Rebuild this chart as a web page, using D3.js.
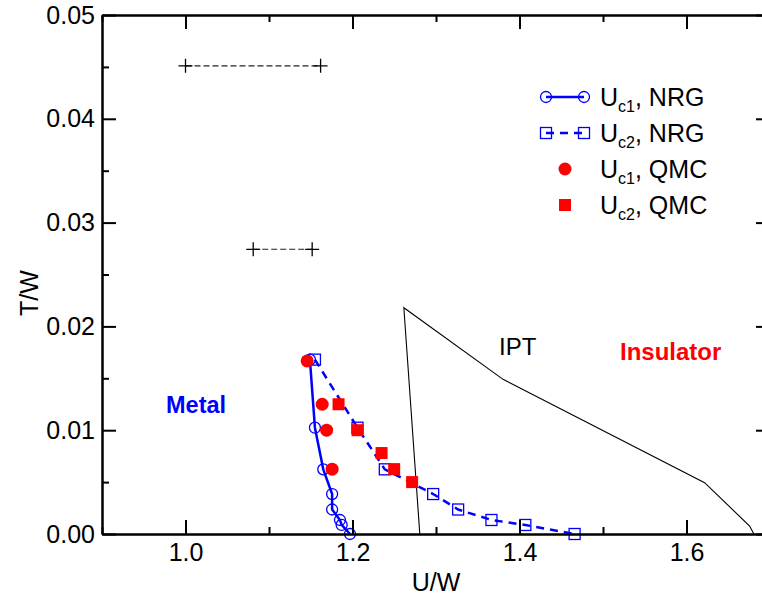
<!DOCTYPE html>
<html><head><meta charset="utf-8">
<script src="https://cdn.jsdelivr.net/npm/d3@7"></script>
<style>
html,body{margin:0;padding:0;background:#fff;}
svg{display:block;font-family:"Liberation Sans",Arial,Helvetica,sans-serif;}
</style></head>
<body>
<svg id="chart" width="762" height="596"></svg>
<script>
// ---- data ----
const xTicks = [1.0, 1.2, 1.4, 1.6];
const xMinor = [0.9, 1.1, 1.3, 1.5, 1.7];
const yTicks = [0.00, 0.01, 0.02, 0.03, 0.04, 0.05];
const yMinor = [0.005, 0.015, 0.025, 0.035, 0.045];

const nrgT   = [0.0168, 0.01024, 0.00623, 0.00385, 0.00236, 0.00135, 0.00087, 0.0];
const uc1NrgU = [1.149, 1.155, 1.165, 1.1756, 1.1756, 1.185, 1.187, 1.197];
const uc2NrgU = [1.155, 1.206, 1.2387, 1.2966, 1.3265, 1.3664, 1.407, 1.466];

const uc1QmcU = [1.1457, 1.1637, 1.169, 1.1756];
const uc1QmcT = [0.01667, 0.0125, 0.0100, 0.00625];
const uc2QmcU = [1.1833, 1.206, 1.2348, 1.2499, 1.2714];
const uc2QmcT = [0.0125, 0.0100, 0.0078, 0.00625, 0.0050];

const iptU = [1.2806, 1.2615, 1.3803, 1.6217, 1.6756, 1.6807];
const iptT = [0.0, 0.0218, 0.0149, 0.00494, 0.00077, 0.0];

const crossTopU = [1.0, 1.1618];
const crossTopT = [0.0451, 0.0451];
const crossBotU = [1.0811, 1.1517];
const crossBotT = [0.02743, 0.02743];

const legendSub = ["c1", "c2", "c1", "c2"];
const legendMethod = ["NRG", "NRG", "QMC", "QMC"];

// ---- chart ----
const svg = d3.select("#chart");
const x = d3.scaleLinear().domain([0.9, 1.7]).range([102, 770]);
const y = d3.scaleLinear().domain([0, 0.05]).range([534, 15]);
const zip = (a, b) => a.map((v, i) => [v, b[i]]);
const line = d3.line().x(d => x(d[0])).y(d => y(d[1]));
const BLUE = "#0000ff", RED = "#ff0000";

// IPT wedge
svg.append("path").attr("d", line(zip(iptU, iptT)))
  .attr("fill", "none").attr("stroke", "#000").attr("stroke-width", 1.1);

// crosses with dashed lines
[[crossTopU, crossTopT], [crossBotU, crossBotT]].forEach(([u, t]) => {
  const pts = zip(u, t);
  svg.append("path").attr("d", line(pts)).attr("fill", "none")
    .attr("stroke", "#222").attr("stroke-width", 1.1).attr("stroke-dasharray", "6,3");
  svg.selectAll(null).data(pts).enter().append("path")
    .attr("d", d => `M${x(d[0]) - 7},${y(d[1])}H${x(d[0]) + 7}M${x(d[0])},${y(d[1]) - 7}V${y(d[1]) + 7}`)
    .attr("stroke", "#000").attr("stroke-width", 1.3).attr("fill", "none");
});

// Uc1 NRG
const c1 = zip(uc1NrgU, nrgT);
svg.append("path").attr("d", line(c1)).attr("fill", "none")
  .attr("stroke", BLUE).attr("stroke-width", 2.5);
svg.selectAll(null).data(c1).enter().append("circle")
  .attr("cx", d => x(d[0])).attr("cy", d => y(d[1])).attr("r", 5.5)
  .attr("fill", "none").attr("stroke", BLUE).attr("stroke-width", 1.3);

// Uc2 NRG
const c2 = zip(uc2NrgU, nrgT);
svg.append("path").attr("d", line(c2)).attr("fill", "none")
  .attr("stroke", BLUE).attr("stroke-width", 2.5).attr("stroke-dasharray", "8,6");
svg.selectAll(null).data(c2).enter().append("rect")
  .attr("x", d => x(d[0]) - 5.5).attr("y", d => y(d[1]) - 5.5)
  .attr("width", 11).attr("height", 11)
  .attr("fill", "none").attr("stroke", BLUE).attr("stroke-width", 1.3);

// QMC
svg.selectAll(null).data(zip(uc1QmcU, uc1QmcT)).enter().append("circle")
  .attr("cx", d => x(d[0])).attr("cy", d => y(d[1])).attr("r", 6.5).attr("fill", RED);
svg.selectAll(null).data(zip(uc2QmcU, uc2QmcT)).enter().append("rect")
  .attr("x", d => x(d[0]) - 6).attr("y", d => y(d[1]) - 6)
  .attr("width", 12).attr("height", 12).attr("fill", RED);

// axes
function styleAxis(g) {
  g.select(".domain").attr("stroke", "#000").attr("stroke-width", 2);
  g.selectAll(".tick line").attr("stroke", "#000").attr("stroke-width", 2);
  g.selectAll("text").attr("fill", "#000").attr("font-size", 25)
    .attr("font-family", "'Liberation Sans', Arial, sans-serif");
}
const fmtX = d3.format(".1f"), fmtY = d3.format(".2f");
svg.append("g").attr("transform", "translate(0,534)")
  .call(d3.axisBottom(x).tickValues(xMinor).tickSize(-7).tickSizeOuter(0).tickFormat(""))
  .call(styleAxis);
svg.append("g").attr("transform", "translate(0,534)")
  .call(d3.axisBottom(x).tickValues(xTicks).tickSize(-14).tickSizeOuter(0).tickPadding(9).tickFormat(fmtX))
  .call(styleAxis);
svg.append("g").attr("transform", "translate(0,15)")
  .call(d3.axisTop(x).tickValues(xMinor).tickSize(-7).tickSizeOuter(0).tickFormat(""))
  .call(styleAxis);
svg.append("g").attr("transform", "translate(0,15)")
  .call(d3.axisTop(x).tickValues(xTicks).tickSize(-14).tickSizeOuter(0).tickFormat(""))
  .call(styleAxis);
svg.append("g").attr("transform", "translate(102,0)")
  .call(d3.axisLeft(y).tickValues(yMinor).tickSize(-7).tickSizeOuter(0).tickFormat(""))
  .call(styleAxis);
svg.append("g").attr("transform", "translate(102,0)")
  .call(d3.axisLeft(y).tickValues(yTicks).tickSize(-14).tickSizeOuter(0).tickPadding(7).tickFormat(fmtY))
  .call(styleAxis);
svg.append("g").attr("transform", "translate(770,0)")
  .call(d3.axisRight(y).tickValues(yMinor).tickSize(-7).tickSizeOuter(0).tickFormat(""))
  .call(styleAxis);
svg.append("g").attr("transform", "translate(770,0)")
  .call(d3.axisRight(y).tickValues(yTicks).tickSize(-14).tickSizeOuter(0).tickFormat(""))
  .call(styleAxis);

// axis titles
svg.append("text").attr("x", 436).attr("y", 591).attr("text-anchor", "middle")
  .attr("font-size", 25).text("U/W");
svg.append("text").attr("transform", "translate(38,293) rotate(-90)").attr("text-anchor", "middle")
  .attr("font-size", 25).text("T/W");

// region labels
svg.append("text").attr("x", 166).attr("y", 413).attr("font-size", 23.5)
  .attr("font-weight", "bold").attr("fill", BLUE).text("Metal");
svg.append("text").attr("x", 620).attr("y", 360).attr("font-size", 24)
  .attr("font-weight", "bold").attr("fill", RED).text("Insulator");
svg.append("text").attr("x", 499).attr("y", 355).attr("font-size", 24)
  .attr("fill", "#000").text("IPT");

// legend
const legY = [97, 133, 169, 205];
const lg = svg.append("g");
// row 1
lg.append("line").attr("x1", 546).attr("x2", 584).attr("y1", legY[0]).attr("y2", legY[0])
  .attr("stroke", BLUE).attr("stroke-width", 2.5);
[546, 584].forEach(cx => lg.append("circle").attr("cx", cx).attr("cy", legY[0]).attr("r", 5.5)
  .attr("fill", "none").attr("stroke", BLUE).attr("stroke-width", 1.3));
// row 2
lg.append("line").attr("x1", 546).attr("x2", 584).attr("y1", legY[1]).attr("y2", legY[1])
  .attr("stroke", BLUE).attr("stroke-width", 2.5).attr("stroke-dasharray", "8,6");
[546, 584].forEach(cx => lg.append("rect").attr("x", cx - 5.5).attr("y", legY[1] - 5.5)
  .attr("width", 11).attr("height", 11)
  .attr("fill", "none").attr("stroke", BLUE).attr("stroke-width", 1.3));
// row 3, 4
lg.append("circle").attr("cx", 565).attr("cy", legY[2]).attr("r", 6.5).attr("fill", RED);
lg.append("rect").attr("x", 559).attr("y", legY[3] - 6).attr("width", 12).attr("height", 12).attr("fill", RED);

legY.forEach((ly, i) => {
  const t = lg.append("text").attr("x", 600).attr("y", ly + 8.5).attr("font-size", 25).attr("fill", "#000");
  t.append("tspan").text("U");
  t.append("tspan").attr("font-size", 16).attr("dy", 6).text(legendSub[i]);
  t.append("tspan").attr("dy", -6).text(", " + legendMethod[i]);
});
</script>
</body></html>
